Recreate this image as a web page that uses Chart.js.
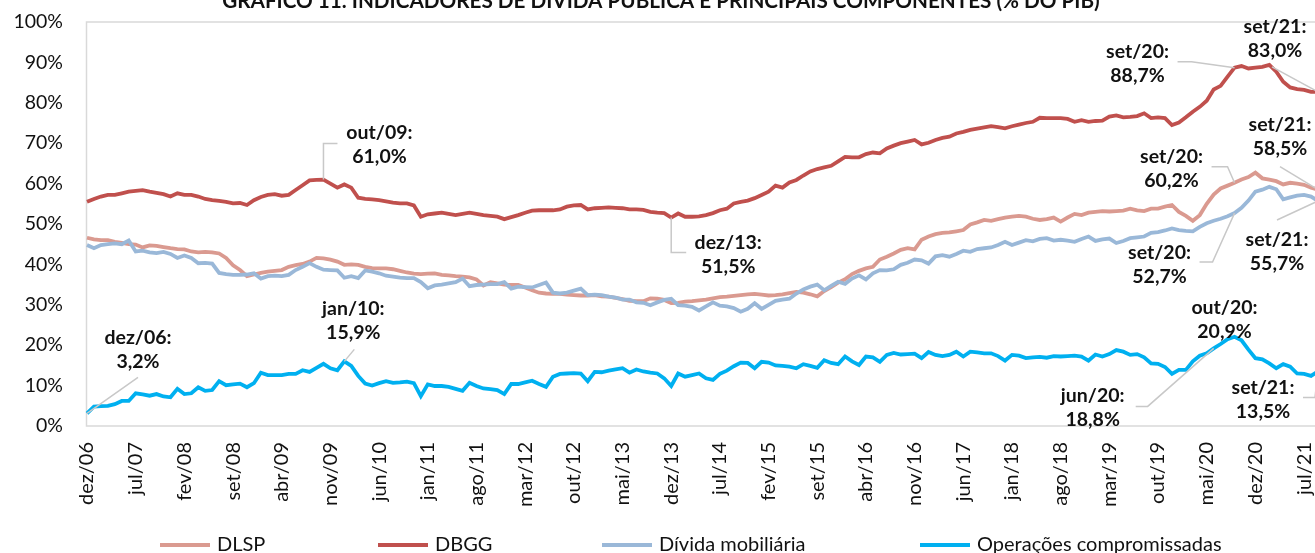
<!DOCTYPE html>
<html>
<head>
<meta charset="utf-8">
<script src="https://cdn.jsdelivr.net/npm/chart.js@4.4.0/dist/chart.umd.min.js"></script>
<style>
    html, body { margin: 0; padding: 0; overflow: hidden; background: #fff; }
    #wrap { position: relative; width: 1330px; height: 560px; }
</style>
</head>
<body>
<div id="wrap"><canvas id="chart"></canvas></div>
<script>
// months from dez/06 to set/21
const monthNames = ['jan', 'fev', 'mar', 'abr', 'mai', 'jun', 'jul', 'ago', 'set', 'out', 'nov', 'dez'];
const firstMonth = 11;
const firstYear = 2006;
const monthCount = 178;
const tickEvery = 7;

const months = [];
for (let k = 0; k < monthCount; k++) {
    const m = (firstMonth + k) % 12;
    const y = firstYear + Math.floor((firstMonth + k) / 12);
    months.push(monthNames[m] + '/' + String(y % 100).padStart(2, '0'));
}

const dlsp = [
    46.6, 46.2, 46.0, 46.0, 45.6, 45.3, 45.0, 44.9, 44.2, 44.7,
    44.6, 44.3, 44.0, 43.8, 43.7, 43.2, 43.0, 43.1, 43.0, 42.7,
    41.6, 39.8, 38.6, 37.1, 37.5, 37.9, 38.2, 38.4, 38.6, 39.4,
    39.8, 40.1, 40.7, 41.6, 41.5, 41.2, 40.7, 39.9, 40.0, 39.9,
    39.4, 39.1, 39.0, 39.0, 38.8, 38.4, 38.0, 37.7, 37.6, 37.7,
    37.8, 37.4, 37.3, 37.1, 37.0, 36.8, 36.3, 34.8, 35.6, 35.3,
    35.0, 34.9, 34.9, 34.3, 33.6, 33.0, 32.8, 32.7, 32.7, 32.5,
    32.4, 32.3, 32.3, 32.4, 32.1, 32.0, 31.7, 31.4, 31.0, 30.9,
    30.9, 31.6, 31.5, 31.2, 30.4, 30.5, 30.8, 30.9, 31.1, 31.3,
    31.6, 31.9, 32.0, 32.2, 32.4, 32.6, 32.7, 32.5, 32.3, 32.4,
    32.6, 32.9, 33.2, 33.0, 32.6, 32.1, 33.4, 34.4, 35.5, 36.3,
    37.6, 38.4, 39.0, 39.4, 41.2, 41.9, 42.7, 43.6, 44.0, 43.7,
    46.1, 46.9, 47.5, 47.8, 47.9, 48.2, 48.5, 49.9, 50.4, 51.0,
    50.8, 51.2, 51.6, 51.8, 52.0, 51.8, 51.3, 51.0, 51.2, 51.6,
    50.6, 51.6, 52.5, 52.2, 52.8, 53.0, 53.2, 53.1, 53.2, 53.3,
    53.8, 53.4, 53.2, 53.8, 53.8, 54.3, 54.7, 53.0, 52.0, 50.8,
    52.2, 55.0, 57.3, 58.8, 59.5, 60.2, 61.0, 61.6, 62.7, 61.3,
    61.0, 60.6, 59.8, 60.2, 60.0, 59.7, 59.0, 58.5
];

const dbgg = [
    55.5, 56.2, 56.8, 57.2, 57.2, 57.6, 58.0, 58.2, 58.4, 58.0,
    57.7, 57.4, 56.8, 57.6, 57.2, 57.2, 56.8, 56.2, 55.9, 55.7,
    55.5, 55.1, 55.2, 54.7, 55.9, 56.7, 57.2, 57.4, 57.0, 57.2,
    58.4, 59.6, 60.8, 60.9, 61.0, 60.0, 59.0, 59.8, 59.0, 56.5,
    56.2, 56.1, 55.9, 55.6, 55.3, 55.1, 55.1, 54.6, 51.8, 52.4,
    52.6, 52.8, 52.5, 52.2, 52.5, 52.8, 52.5, 52.2, 52.0, 51.8,
    51.2, 51.7, 52.2, 52.8, 53.3, 53.4, 53.4, 53.4, 53.6, 54.3,
    54.6, 54.7, 53.6, 53.9, 54.0, 54.1, 54.0, 53.9, 53.6, 53.6,
    53.5, 53.0, 52.8, 52.7, 51.6, 52.6, 51.8, 51.8, 51.9, 52.2,
    52.7, 53.4, 53.8, 55.1, 55.5, 55.8, 56.4, 57.2, 58.0, 59.5,
    59.0, 60.3, 60.9, 62.0, 63.0, 63.6, 64.0, 64.4, 65.5, 66.6,
    66.5, 66.5, 67.3, 67.7, 67.5, 68.7, 69.4, 70.0, 70.4, 70.8,
    69.7, 70.1, 70.8, 71.3, 71.6, 72.4, 72.8, 73.3, 73.6, 73.9,
    74.2, 74.0, 73.7, 74.2, 74.6, 75.0, 75.3, 76.3, 76.2, 76.2,
    76.2, 76.0, 75.3, 75.7, 75.3, 75.5, 75.6, 76.6, 76.9, 76.4,
    76.5, 76.7, 77.4, 76.2, 76.4, 76.2, 74.5, 75.1, 76.4, 77.8,
    79.0, 80.5, 83.3, 84.2, 86.5, 88.7, 89.1, 88.5, 88.7, 88.9,
    89.4, 87.7, 85.2, 83.8, 83.4, 83.2, 82.7, 82.7
];

const mobiliaria = [
    44.8, 44.0, 44.8, 45.0, 45.2, 45.0, 45.9, 43.2, 43.4, 43.0,
    42.8, 43.1, 42.6, 41.6, 42.2, 41.6, 40.3, 40.4, 40.2, 37.9,
    37.6, 37.4, 37.4, 37.5, 37.8, 36.5, 37.1, 37.2, 37.1, 37.4,
    38.6, 39.4, 40.3, 39.4, 38.7, 38.6, 38.5, 36.7, 37.1, 36.6,
    38.5, 38.2, 37.8, 37.2, 37.0, 36.7, 36.6, 36.6, 35.6, 34.1,
    34.8, 35.0, 35.3, 35.6, 36.5, 34.6, 34.9, 35.0, 35.1, 35.1,
    35.6, 34.0, 34.5, 34.4, 34.3, 34.9, 35.5, 33.0, 32.8, 33.0,
    33.5, 34.0, 32.4, 32.5, 32.4, 32.0, 31.8, 31.3, 31.3, 30.6,
    30.5, 29.9, 30.6, 31.2, 31.5, 29.9, 29.8, 29.5, 28.6, 29.6,
    30.6, 29.8, 29.6, 29.2, 28.3, 29.0, 30.4, 29.0, 30.0, 31.0,
    31.3, 31.5, 32.8, 33.8, 34.5, 35.0, 33.6, 34.7, 35.7, 35.2,
    36.5, 37.3, 36.3, 37.8, 38.6, 38.5, 38.8, 39.9, 40.4, 41.2,
    41.0, 40.2, 42.0, 42.3, 41.9, 42.6, 43.4, 43.1, 43.8, 44.0,
    44.2, 44.8, 45.6, 44.8, 45.4, 46.0, 45.7, 46.3, 46.5, 45.9,
    46.1, 45.9, 45.6, 46.3, 46.9, 45.8, 46.2, 46.4, 45.3, 45.8,
    46.5, 46.7, 46.9, 47.8, 48.0, 48.4, 48.9, 48.5, 48.3, 48.2,
    49.3, 50.2, 50.8, 51.3, 51.9, 52.7, 54.0, 55.8, 58.0, 58.5,
    59.2, 58.6, 56.1, 56.6, 57.0, 57.2, 56.8, 55.7
];

const compromissadas = [
    3.1, 4.8, 4.9, 5.0, 5.4, 6.2, 6.2, 8.1, 7.8, 7.5,
    7.9, 7.3, 7.1, 9.2, 7.9, 8.1, 9.6, 8.7, 8.9, 11.1,
    10.1, 10.3, 10.5, 9.6, 10.6, 13.2, 12.6, 12.6, 12.6, 12.9,
    12.9, 13.8, 13.4, 14.4, 15.4, 14.3, 13.8, 16.0, 14.9, 12.4,
    10.5, 10.0, 10.6, 11.1, 10.7, 10.8, 11.0, 10.6, 7.4, 10.3,
    9.9, 9.9, 9.7, 9.2, 8.7, 10.7, 9.9, 9.3, 9.1, 8.9,
    7.9, 10.4, 10.4, 10.8, 11.2, 10.4, 9.7, 12.2, 12.9, 13.0,
    13.1, 13.0, 11.1, 13.4, 13.3, 13.7, 14.0, 14.3, 13.2, 14.0,
    13.5, 13.2, 13.0, 11.8, 9.9, 13.0, 12.2, 12.6, 13.0, 11.8,
    11.4, 12.9, 13.7, 14.8, 15.7, 15.6, 14.3, 15.9, 15.7, 15.0,
    14.9, 14.7, 14.3, 15.3, 14.9, 14.4, 16.3, 15.6, 15.3, 17.2,
    16.0, 15.1, 17.2, 17.0, 15.9, 17.6, 18.1, 17.7, 17.8, 17.9,
    16.8, 18.3, 17.6, 17.3, 17.6, 18.4, 17.2, 18.4, 18.2, 18.0,
    18.0, 17.3, 16.2, 17.6, 17.4, 16.8, 17.0, 17.1, 16.9, 17.3,
    17.2, 17.3, 17.4, 17.2, 16.2, 17.7, 17.2, 17.8, 18.8, 18.4,
    17.6, 17.8, 17.0, 15.5, 15.4, 14.6, 12.9, 13.9, 13.9, 16.0,
    17.4, 18.0, 19.2, 20.3, 21.5, 22.1, 21.2, 18.9, 16.8, 16.5,
    15.5, 14.3, 15.3, 14.7, 13.0, 12.9, 12.4, 13.5
];

const seriesNames = ['DLSP', 'DBGG', 'Dívida mobiliária', 'Operações compromissadas'];
const seriesColors = ['#DA9A90', '#C0504D', '#9AB8D8', '#00B0F0'];

const titleText = 'GRÁFICO 11. INDICADORES DE DÍVIDA PÚBLICA E PRINCIPAIS COMPONENTES (% DO PIB)';

// callouts: dataset, month index, text, label offset from the point, leader path from the point
const notes = [
    { ds: 1, at: 34, text: ['out/09:', '61,0%'], dx: 56, dy: -47, leader: [[0, -36], [14, -36]] },
    { ds: 1, at: 84, text: ['dez/13:', '51,5%'], dx: 57, dy: 25, leader: [[0, 35], [15, 35]] },
    { ds: 1, at: 165, text: ['set/20:', '88,7%'], dx: -97, dy: -16, leader: [[-43, -6], [-57, -6]] },
    { ds: 1, at: 177, text: ['set/21:', '83,0%'], dx: -43, dy: -65, leader: [[-46, -25]] },
    { ds: 0, at: 177, text: ['set/21:', '58,5%'], dx: -38, dy: -65, leader: [[-38, -23]] },
    { ds: 0, at: 165, text: ['set/20:', '60,2%'], dx: -63, dy: -26, leader: [[-7, -16], [-23, -16]] },
    { ds: 2, at: 165, text: ['set/20:', '52,7%'], dx: -75, dy: 40, leader: [[-22, 49], [-35, 49]] },
    { ds: 2, at: 177, text: ['set/21:', '55,7%'], dx: -41, dy: 39, leader: [[-41, 19]] },
    { ds: 3, at: 166, text: ['out/20:', '20,9%'], dx: -17, dy: -33, leader: [] },
    { ds: 3, at: 162, text: ['jun/20:', '18,8%'], dx: -121, dy: 47, leader: [[-66, 58], [-78, 58]] },
    { ds: 3, at: 177, text: ['set/21:', '13,5%'], dx: -55, dy: 16, leader: [[-3, 26], [-15, 26]] },
    { ds: 3, at: 37, text: ['jan/10:', '15,9%'], dx: 9, dy: -53, leader: [[10, -12]] },
    { ds: 3, at: 0, text: ['dez/06:', '3,2%'], dx: 51, dy: -76, leader: [[51, -36]] }
];

const fontFamily = 'Lato, "Open Sans", sans-serif';
const legendX = [160, 378, 602, 920];

const framePlugin = {
    id: 'frame',
    beforeDatasetsDraw(chart) {
        const { ctx, chartArea } = chart;
        ctx.save();
        ctx.strokeStyle = '#D9D9D9';
        ctx.lineWidth = 1.5;
        ctx.strokeRect(chartArea.left - 0.5, chartArea.top, chartArea.right - chartArea.left + 10, chartArea.bottom - chartArea.top);
        ctx.restore();
    }
};

const notesPlugin = {
    id: 'notes',
    afterDraw(chart) {
        const { ctx } = chart;
        const xs = chart.scales.x;
        const ys = chart.scales.y;
        ctx.save();

        // title, partly cut by the top edge
        let size = 20;
        ctx.font = `bold ${size}px ${fontFamily}`;
        size = size * 878 / ctx.measureText(titleText).width;
        ctx.font = `bold ${size}px ${fontFamily}`;
        ctx.fillStyle = '#111';
        ctx.textAlign = 'center';
        ctx.textBaseline = 'alphabetic';
        ctx.fillText(titleText, 661, 8);

        // callouts
        notes.forEach(n => {
            const px = xs.getPixelForValue(n.at);
            const py = ys.getPixelForValue(chart.data.datasets[n.ds].data[n.at]);
            if (n.leader.length) {
                ctx.beginPath();
                ctx.moveTo(px, py);
                n.leader.forEach(p => ctx.lineTo(px + p[0], py + p[1]));
                ctx.strokeStyle = '#C8C8C8';
                ctx.lineWidth = 1.5;
                ctx.stroke();
            }
            ctx.font = `bold 19.5px ${fontFamily}`;
            ctx.fillStyle = '#111';
            ctx.textAlign = 'center';
            ctx.textBaseline = 'middle';
            n.text.forEach((t, k) => ctx.fillText(t, px + n.dx, py + n.dy + k * 24));
        });

        // legend
        ctx.font = `20px ${fontFamily}`;
        ctx.textAlign = 'left';
        ctx.textBaseline = 'alphabetic';
        chart.data.datasets.forEach((d, k) => {
            ctx.strokeStyle = d.borderColor;
            ctx.lineWidth = 4;
            ctx.beginPath();
            ctx.moveTo(legendX[k], 545);
            ctx.lineTo(legendX[k] + 50, 545);
            ctx.stroke();
            ctx.fillStyle = '#111';
            ctx.fillText(d.label, legendX[k] + 57, 551);
        });
        ctx.restore();
    }
};

const seriesData = [dlsp, dbgg, mobiliaria, compromissadas];
const drawOrder = [3, 2, 1, 0];

new Chart(document.getElementById('chart'), {
    type: 'line',
    data: {
        labels: months,
        datasets: seriesData.map((d, k) => ({
            label: seriesNames[k],
            data: d,
            borderColor: seriesColors[k],
            backgroundColor: seriesColors[k],
            borderWidth: 3.8,
            pointRadius: 0,
            tension: 0,
            order: drawOrder[k]
        }))
    },
    options: {
        responsive: true,
        maintainAspectRatio: false,
        animation: false,
        devicePixelRatio: 1,
        layout: { padding: { top: 22, right: 12, bottom: 44, left: 0 } },
        plugins: {
            legend: { display: false },
            title: { display: false },
            tooltip: { enabled: false }
        },
        scales: {
            x: {
                grid: { display: false, drawTicks: false },
                border: { display: false },
                ticks: {
                    autoSkip: false,
                    minRotation: 90,
                    maxRotation: 90,
                    padding: 16,
                    color: '#111',
                    font: { family: fontFamily, size: 20 },
                    callback: function (value, index) {
                        return index % tickEvery === 0 ? this.getLabelForValue(value) : '';
                    }
                },
                afterFit(axis) {
                    axis.height = 90;
                    axis.paddingLeft = 0;
                    axis.paddingRight = 0;
                }
            },
            y: {
                min: 0,
                max: 100,
                grid: { display: false, drawTicks: false },
                border: { display: false },
                ticks: {
                    stepSize: 10,
                    padding: 24,
                    color: '#111',
                    font: { family: fontFamily, size: 19.5 },
                    callback: v => v + '%'
                },
                afterFit(axis) {
                    axis.width = 87;
                    axis.paddingTop = 0;
                    axis.paddingBottom = 0;
                }
            }
        }
    },
    plugins: [framePlugin, notesPlugin]
});
</script>
</body>
</html>
